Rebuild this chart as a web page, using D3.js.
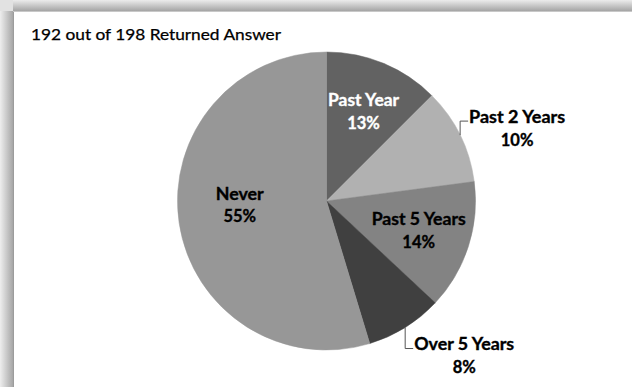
<!DOCTYPE html>
<html><head><meta charset="utf-8">
<script src="https://cdn.jsdelivr.net/npm/d3@7"></script>
<style>html,body{margin:0;padding:0;background:#fff;}svg{display:block;}</style>
</head><body>
<svg id="chart" width="632" height="387"></svg>
<script>
// ---- data ----
const title = "192 out of 198 Returned Answer";
const categories = ["Past Year", "Past 2 Years", "Past 5 Years", "Over 5 Years", "Never"];
const counts = [24, 20, 27, 16, 105];
const percentLabels = ["13%", "10%", "14%", "8%", "55%"];
const sliceColors = ["#626262", "#b1b1b1", "#838383", "#404040", "#979797"];
const labelColors = ["#ffffff", "#000000", "#000000", "#000000", "#000000"];
const labelOutside = [false, true, false, true, false];

const W = 632, H = 387;
const svg = d3.select("#chart");
const defs = svg.append("defs");

// frame shadow
const gTop = defs.append("linearGradient").attr("id", "gTop").attr("x1", 0).attr("y1", 0).attr("x2", 0).attr("y2", 1);
gTop.append("stop").attr("offset", "0%").attr("stop-color", "#ececec");
gTop.append("stop").attr("offset", "100%").attr("stop-color", "#a4a4a4");
const gLeft = defs.append("linearGradient").attr("id", "gLeft").attr("x1", 0).attr("y1", 0).attr("x2", 1).attr("y2", 0);
gLeft.append("stop").attr("offset", "0%").attr("stop-color", "#eeeeee");
gLeft.append("stop").attr("offset", "100%").attr("stop-color", "#a6a6a6");

const frameX = 13, frameY = 11;
svg.append("rect").attr("x", 0).attr("y", 0).attr("width", W).attr("height", frameY).attr("fill", "url(#gTop)");
svg.append("rect").attr("x", 0).attr("y", 0).attr("width", frameX).attr("height", H).attr("fill", "url(#gLeft)");
svg.append("rect").attr("x", 0).attr("y", 0).attr("width", frameX).attr("height", frameY).attr("fill", "#e2e2e2");
svg.append("rect").attr("x", frameX).attr("y", frameY).attr("width", W - frameX).attr("height", H - frameY).attr("fill", "#ffffff");
svg.append("line").attr("x1", frameX + 0.5).attr("y1", frameY).attr("x2", frameX + 0.5).attr("y2", H).attr("stroke", "#9c9c9c").attr("stroke-width", 1);
svg.append("line").attr("x1", frameX).attr("y1", frameY + 0.5).attr("x2", W).attr("y2", frameY + 0.5).attr("stroke", "#c8c8c8").attr("stroke-width", 1);

// title
const titleText = svg.append("text")
  .attr("x", 31).attr("y", 40)
  .attr("font-family", "Lato, 'Open Sans', sans-serif")
  .attr("font-size", 15)
  .attr("fill", "#000")
  .attr("stroke", "#000").attr("stroke-width", 0.25)
  .text(title);
titleText.attr("textLength", 250).attr("lengthAdjust", "spacingAndGlyphs");

// pie
const cx = 326.5, cy = 201, R = 149;
const pie = d3.pie().sort(null).value(d => d);
const arcs = pie(counts);
const arc = d3.arc().innerRadius(0).outerRadius(R);
const g = svg.append("g").attr("transform", `translate(${cx},${cy})`);

g.selectAll("path.slice").data(arcs).join("path")
  .attr("class", "slice")
  .attr("d", arc)
  .attr("fill", (d, i) => sliceColors[i])
  .attr("stroke", (d, i) => sliceColors[i])
  .attr("stroke-width", 0.5);

// labels
const inArc = d3.arc().innerRadius(R * 0.65).outerRadius(R * 0.65);
const edgeArc = d3.arc().innerRadius(R).outerRadius(R);
// label layout nudges (px)
const inNudge = [[0, 0], null, [0, 0], null, [9, -10]];
const leaderDrop = [null, -14, null, 21, null];
const targetW = [71, 96, 94, 100, 48];
const lineH = 23;
const font = "Lato, 'Open Sans', sans-serif";

arcs.forEach((a, i) => {
  let tx, ty; // center of first line
  if (!labelOutside[i]) {
    const c = inArc.centroid(a);
    tx = c[0] + inNudge[i][0];
    ty = c[1] + inNudge[i][1] - lineH / 2;
  } else {
    const e = edgeArc.centroid(a);
    const elbow = [e[0], e[1] + leaderDrop[i]];
    const left = elbow[0] + 9;
    g.append("polyline")
      .attr("points", [e, elbow, [left - 1, elbow[1]]].map(p => p.join(",")).join(" "))
      .attr("fill", "none").attr("stroke", "#555").attr("stroke-width", 1);
    tx = left + targetW[i] / 2;
    ty = elbow[1] - 4;
  }
  const t = g.append("text")
    .attr("text-anchor", "middle")
    .attr("font-family", font)
    .attr("font-weight", "bold")
    .attr("font-size", 16.5)
    .attr("fill", labelColors[i])
    .attr("stroke", labelColors[i]).attr("stroke-width", 0.35);
  const l1 = t.append("tspan").attr("x", tx).attr("y", ty).attr("dy", "0.35em").text(categories[i]);
  t.append("tspan").attr("x", tx).attr("y", ty + lineH).attr("dy", "0.35em").text(percentLabels[i]);
  const w = l1.node().getComputedTextLength();
  if (Math.abs(w - targetW[i]) > 2) l1.attr("textLength", targetW[i]).attr("lengthAdjust", "spacingAndGlyphs");
});
</script>
</body></html>
